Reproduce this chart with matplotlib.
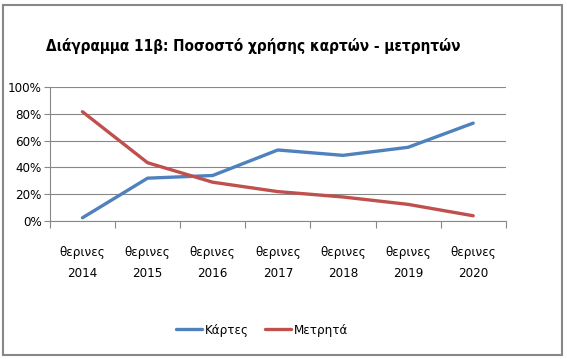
import matplotlib
matplotlib.use("Agg")
import matplotlib.pyplot as plt
from matplotlib.ticker import PercentFormatter
from matplotlib.patches import Rectangle

plt.rcParams['font.family'] = ['DejaVu Sans']
plt.rcParams['font.stretch'] = 'condensed'

# data
categories = ["θερινες\n2014", "θερινες\n2015", "θερινες\n2016", "θερινες\n2017",
              "θερινες\n2018", "θερινες\n2019", "θερινες\n2020"]
kartes = [2.5, 32, 34, 53, 49, 55, 73]
metrita = [81.5, 43.5, 29, 22, 18, 12.5, 4]

fig = plt.figure(figsize=(5.67, 3.59), dpi=100)
ax = fig.add_axes([0.088, 0.384, 0.804, 0.374])

x = list(range(len(categories)))
ax.plot(x, kartes, color='#4F81BD', lw=2.4, label='Κάρτες', solid_capstyle='round')
ax.plot(x, metrita, color='#C0504D', lw=2.4, label='Μετρητά', solid_capstyle='round')

ax.set_xlim(-0.5, len(categories) - 0.5)
ax.set_ylim(0, 100)
ax.set_yticks([0, 20, 40, 60, 80, 100])
ax.yaxis.set_major_formatter(PercentFormatter(decimals=0))
ax.set_xticks([i - 0.5 for i in range(len(categories) + 1)])
ax.set_xticklabels([])
ax.set_xticks(x, minor=True)
ax.set_xticklabels(categories, minor=True, fontsize=9.5, linespacing=1.75)
ax.tick_params(axis='x', which='minor', length=0, pad=18)
ax.tick_params(axis='x', which='major', length=5, color='#888888', direction='out')
ax.tick_params(axis='y', length=4, color='#888888', labelsize=9.5, pad=2)

ax.grid(axis='y', color='#888888', lw=0.8)
ax.set_axisbelow(True)
for s in ['top', 'right']:
    ax.spines[s].set_visible(False)
ax.spines['left'].set_color('#888888')
ax.spines['bottom'].set_color('#888888')

fig.text(0.447, 0.873, 'Διάγραμμα 11β: Ποσοστό χρήσης καρτών - μετρητών',
         ha='center', va='center', fontsize=11, fontweight='bold')

fig.legend(loc='center', bbox_to_anchor=(0.462, 0.08), ncol=2, frameon=False,
           fontsize=9.5, handlelength=2.0, handletextpad=0.2, columnspacing=1.2)

# outer frame
fig.patches.append(Rectangle((0.006, 0.01), 0.986, 0.975, transform=fig.transFigure,
                             fill=False, edgecolor='#888888', lw=1.5))

fig.savefig("out.png", dpi=100)
